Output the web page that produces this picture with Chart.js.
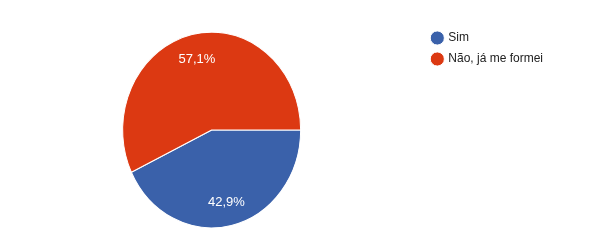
<!DOCTYPE html>
<html lang="pt">
<head>
  <meta charset="UTF-8">
  <title>Pie</title>
  <script src="https://cdn.jsdelivr.net/npm/chart.js"></script>
  <style>
    html, body { margin: 0; padding: 0; background: #fff; }
    .chart-container { width: 599px; height: 250px; position: relative; }
  </style>
</head>
<body>
  <div class="chart-container">
    <canvas id="pieChart"></canvas>
  </div>

  <script>
    const categories = ['Sim', 'Não, já me formei'];
    const percents = [42.9, 57.1];
    const colors = ['#3a61aa', '#dc3912'];

    const yStretch = 1.1;

    // the reference pie is a little taller than wide
    const stretchPlugin = {
      id: 'stretch',
      beforeDatasetsDraw(chart) {
        const arc = chart.getDatasetMeta(0).data[0];
        const ctx = chart.ctx;
        ctx.save();
        ctx.translate(arc.x, arc.y);
        ctx.scale(1, yStretch);
        ctx.translate(-arc.x, -arc.y);
      },
      afterDatasetsDraw(chart) {
        chart.ctx.restore();
      }
    };

    const labelPlugin = {
      id: 'sliceLabels',
      afterDraw(chart) {
        const ctx = chart.ctx;
        const meta = chart.getDatasetMeta(0);
        ctx.save();
        ctx.fillStyle = '#ffffff';
        ctx.font = '13px "Liberation Sans", Arial, sans-serif';
        ctx.textAlign = 'center';
        ctx.textBaseline = 'middle';
        meta.data.forEach((arc, i) => {
          const mid = (arc.startAngle + arc.endAngle) / 2;
          const r = arc.outerRadius * 0.75;
          const x = arc.x + Math.cos(mid) * r;
          const y = arc.y + Math.sin(mid) * r * yStretch;
          ctx.fillText(percents[i].toFixed(1).replace('.', ',') + '%', x, y + 1);
        });
        ctx.restore();
      }
    };

    const ctx = document.getElementById('pieChart').getContext('2d');
    new Chart(ctx, {
      type: 'pie',
      data: {
        labels: categories,
        datasets: [{
          data: percents,
          backgroundColor: colors,
          borderColor: '#ffffff',
          borderWidth: 1,
          radius: 89,
          clip: false
        }]
      },
      options: {
        responsive: true,
        maintainAspectRatio: false,
        animation: false,
        rotation: 90,
        layout: {
          padding: { left: 0, right: 46, top: 23, bottom: 13 }
        },
        plugins: {
          legend: {
            position: 'right',
            align: 'start',
            labels: {
              usePointStyle: true,
              pointStyle: 'circle',
              boxWidth: 10,
              boxHeight: 10,
              padding: 9,
              color: '#222222',
              font: { family: '"Liberation Sans", Arial, sans-serif', size: 12 }
            }
          },
          tooltip: { enabled: false }
        }
      },
      plugins: [stretchPlugin, labelPlugin]
    });
  </script>
</body>
</html>
